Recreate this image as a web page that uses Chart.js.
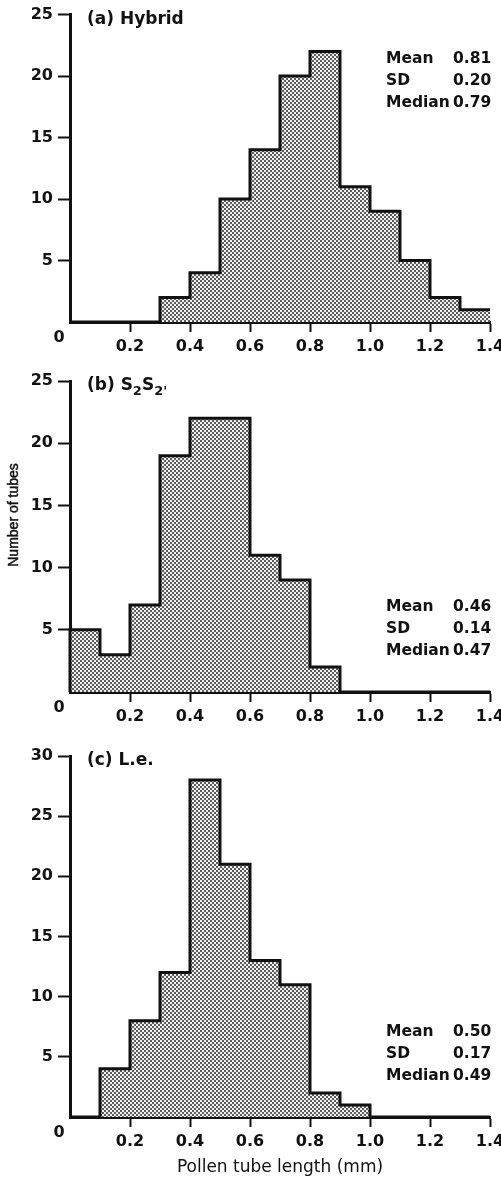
<!DOCTYPE html>
<html><head><meta charset="utf-8">
<script src="https://cdn.jsdelivr.net/npm/chart.js@4/dist/chart.umd.min.js"></script>
<style>
html,body{margin:0;padding:0;background:#fff;}
body{width:501px;height:1178px;position:relative;overflow:hidden;}
.p{position:absolute;left:0;width:501px;}
canvas{display:block;}
</style></head><body>
<div class="p" style="top:0;height:360px"><canvas id="ca" width="501" height="360"></canvas></div>
<div class="p" style="top:360px;height:370px"><canvas id="cb" width="501" height="370"></canvas></div>
<div class="p" style="top:730px;height:448px"><canvas id="cc" width="501" height="448"></canvas></div>
<script>
// ---- data ----
const binStarts = [0.0,0.1,0.2,0.3,0.4,0.5,0.6,0.7,0.8,0.9,1.0,1.1,1.2,1.3];
const binWidth = 0.1;
const countsA = [0,0,0,2,4,10,14,20,22,11,9,5,2,1];
const countsB = [5,3,7,19,22,22,11,9,2,0,0,0,0,0];
const countsC = [0,4,8,12,28,21,13,11,2,1,0,0,0,0];
const xTickValues = [0.2,0.4,0.6,0.8,1.0,1.2,1.4];
const xTickLabels = ['0.2','0.4','0.6','0.8','1.0','1.2','1.4'];
const yTicksAB = [5,10,15,20,25];
const yTicksC = [5,10,15,20,25,30];
const originLabel = '0';
const statLabels = ['Mean','SD','Median'];
const statsA = ['0.81','0.20','0.79'];
const statsB = ['0.46','0.14','0.47'];
const statsC = ['0.50','0.17','0.49'];
const titleA = '(a) Hybrid';
const titleB = '(b) S₂S₂′';
const titleC = '(c) L.e.';
const xTitle = 'Pollen tube length (mm)';
const yTitle = 'Number of tubes';

const INK = '#111';
const FONT = 'DejaVu Sans';
Chart.defaults.font.family = FONT;
Chart.defaults.font.size = 16;
Chart.defaults.font.weight = 'bold';
Chart.defaults.color = INK;

function makePattern(){
  const c = document.createElement('canvas'); c.width = 4; c.height = 4;
  const g = c.getContext('2d');
  g.fillStyle = '#f0f0f0'; g.fillRect(0,0,4,4);
  g.fillStyle = '#5c5c5c'; g.fillRect(0,0,2,2); g.fillRect(2,2,2,2);
  return g.createPattern(c,'repeat');
}

function drawTitle(ctx, text, x, y){
  ctx.save();
  ctx.fillStyle = INK; ctx.textBaseline = 'middle'; ctx.textAlign = 'left';
  let cx = x;
  for (const ch of text){
    if (ch === '₂' || ch === '′'){
      ctx.font = 'bold 13px ' + FONT;
      const t = ch === '₂' ? '2' : "'";
      ctx.fillText(t, cx, y + 6);
      cx += ctx.measureText(t).width;
    } else {
      ctx.font = 'bold 17px ' + FONT;
      ctx.fillText(ch, cx, y);
      cx += ctx.measureText(ch).width;
    }
  }
  ctx.restore();
}

function makePanel(id, counts, yMax, yTicks, stats, title, cfg){
  const ctx = document.getElementById(id).getContext('2d');
  const bars = binStarts.map((s,i)=>({x: s + binWidth/2, y: counts[i]}));
  const outline = [{x: binStarts[0], y: 0}];
  binStarts.forEach((s,i)=>outline.push({x: s + binWidth, y: counts[i]}));
  outline.push({x: binStarts[binStarts.length-1] + binWidth, y: 0});

  const textPlugin = {
    id: 'texts',
    afterDraw(chart){
      const c = chart.ctx, a = chart.chartArea;
      c.save();
      drawTitle(c, title, 87, a.top + 5);
      c.font = 'bold 16px ' + FONT; c.fillStyle = INK; c.textBaseline = 'middle';
      c.textAlign = 'center';
      c.fillText(originLabel, 59, a.bottom + 16);
      c.textAlign = 'left';
      const y0 = cfg.statsTop ? a.top + 44 : a.bottom - 85;
      c.font = 'bold 15.5px ' + FONT;
      statLabels.forEach((l,i)=>{
        c.fillText(l, 386, y0 + i*22);
        c.fillText(stats[i], 453, y0 + i*22);
      });
      if (cfg.yTitle){
        c.save();
        c.translate(14, 515 - 360);
        c.rotate(-Math.PI/2);
        c.textAlign = 'center';
        c.font = '14px "Liberation Sans"';
        c.strokeStyle = INK; c.lineWidth = 0.5;
        c.fillText(yTitle, 0, 0);
        c.strokeText(yTitle, 0, 0);
        c.restore();
      }
      c.restore();
    }
  };

  return new Chart(ctx, {
    type: 'bar',
    data: {
      datasets: [
        { type: 'line', data: outline, stepped: 'after', borderColor: INK, borderWidth: 3,
          pointRadius: 0, fill: false, borderJoinStyle: 'miter', borderCapStyle: 'butt', clip: false, order: 0 },
        { type: 'bar', data: bars, backgroundColor: makePattern(), borderWidth: 0,
          barPercentage: 1, categoryPercentage: 1, order: 1 }
      ]
    },
    options: {
      responsive: false, animation: false,
      layout: { padding: { top: cfg.padTop, right: 11, left: 0, bottom: 0 } },
      plugins: { legend: { display: false }, tooltip: { enabled: false } },
      scales: {
        x: {
          type: 'linear', min: 0, max: 1.4, offset: false,
          afterBuildTicks: s => { s.ticks = xTickValues.map(v=>({value: v})); },
          afterFit: s => { s.height = cfg.xH; s.paddingRight = 0; s.paddingLeft = 0; },
          ticks: { autoSkip: false, maxRotation: 0, padding: 5,
                   callback: (v) => xTickLabels[xTickValues.findIndex(t=>Math.abs(t-v)<1e-6)] },
          grid: { drawOnChartArea: false, offset: false, tickLength: 10, tickWidth: 2, tickColor: INK },
          border: { display: true, color: INK, width: 3 },
          title: { display: !!cfg.xTitle, text: xTitle, font: { size: 17, weight: 'normal' }, padding: { top: 0, bottom: 0 } }
        },
        y: {
          type: 'linear', min: 0, max: yMax,
          afterBuildTicks: s => { s.ticks = yTicks.map(v=>({value: v})); },
          afterFit: s => { s.width = 70; },
          ticks: { padding: 5 },
          grid: { drawOnChartArea: false, tickLength: 12, tickWidth: 2, tickColor: INK },
          border: { display: true, color: INK, width: 3 }
        }
      }
    },
    plugins: [textPlugin]
  });
}

makePanel('ca', countsA, 25, yTicksAB, statsA, titleA, { padTop: 14, xH: 38, statsTop: true });
makePanel('cb', countsB, 25, yTicksAB, statsB, titleB, { padTop: 21, xH: 38, statsTop: false, yTitle: true });
makePanel('cc', countsC, 30, yTicksC, statsC, titleC, { padTop: 26, xH: 61, statsTop: false, xTitle: true });
</script>
</body></html>
